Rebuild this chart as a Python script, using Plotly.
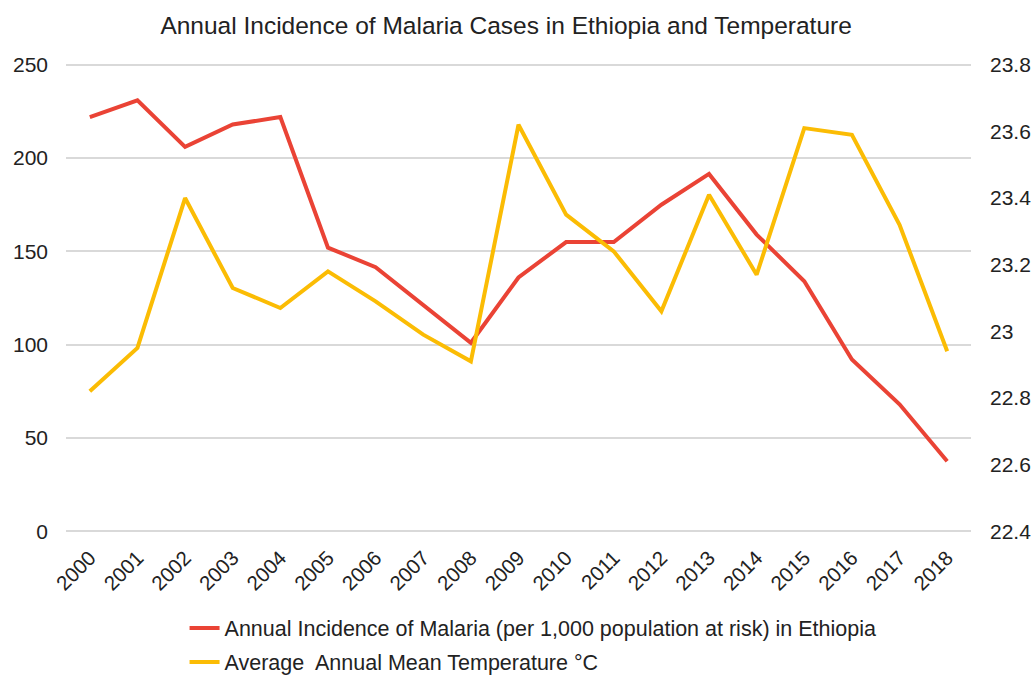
import plotly.graph_objects as go

years = [str(y) for y in range(2000, 2019)]
malaria = [222, 231, 206, 218, 222, 152, 141.5, 121, 101, 136, 155, 155, 175, 191.5, 159, 134, 92, 68, 37.5]
temperature = [22.82, 22.95, 23.40, 23.13, 23.07, 23.18, 23.09, 22.99, 22.91, 23.62,
               23.35, 23.24, 23.06, 23.41, 23.17, 23.61, 23.59, 23.32, 22.94]

malaria_name = "Annual Incidence of Malaria (per 1,000 population at risk) in Ethiopia"
temp_name = "Average  Annual Mean Temperature °C"

FONT = "Liberation Sans, Arial, sans-serif"
GRID = "#d9d9d9"

# small padding so the 0 and 250 gridlines are not clipped at the plot edges
pad = 1.5
y1_range = [0 - pad, 250 + pad]
t_per_unit = (23.8 - 22.4) / 250
y2_range = [22.4 - pad * t_per_unit, 23.8 + pad * t_per_unit]

fig = go.Figure()
fig.add_trace(go.Scatter(x=years, y=malaria, name=malaria_name, mode="lines",
                         line=dict(color="#ea4335", width=4), legendgroup="a"))
fig.add_trace(go.Scatter(x=years, y=temperature, name=temp_name, mode="lines",
                         line=dict(color="#fbbc04", width=4), yaxis="y2", legendgroup="b"))

fig.update_layout(
    width=1035, height=678,
    margin=dict(l=66, r=63.5, t=62, b=144, autoexpand=False),
    paper_bgcolor="white", plot_bgcolor="white",
    font=dict(family=FONT, size=21, color="#222222"),
    title=dict(text="Annual Incidence of Malaria Cases in Ethiopia and Temperature",
               x=0.489, xanchor="center", y=0.963, yanchor="middle",
               font=dict(family=FONT, size=24.5, color="#222222")),
    xaxis=dict(type="category", range=[-0.5, 18.5], tickangle=-45, automargin=False,
               showgrid=False, showline=False, zeroline=False,
               tickfont=dict(size=20.5), ticks="", ticklabelstandoff=7),
    yaxis=dict(range=y1_range, tickvals=[0, 50, 100, 150, 200, 250], automargin=False,
               showgrid=True, gridcolor=GRID, gridwidth=1.5,
               zeroline=True, zerolinecolor=GRID, zerolinewidth=1.5,
               showline=False, ticks="", ticklabelstandoff=17,
               tickfont=dict(size=21)),
    yaxis2=dict(range=y2_range, tick0=22.4, dtick=0.2, overlaying="y", side="right",
                automargin=False, showgrid=False, zeroline=False, showline=False, ticks="",
                ticklabelstandoff=18, tickfont=dict(size=21)),
    legend=dict(orientation="v", x=0.131, xanchor="left", y=-0.156, yanchor="top",
                font=dict(size=21.5, color="#222222"), tracegroupgap=3,
                bgcolor="rgba(0,0,0,0)"),
    showlegend=True,
)

fig.write_html("out.html", config={"displayModeBar": False},
               post_script="document.body.style.margin='0px';")
